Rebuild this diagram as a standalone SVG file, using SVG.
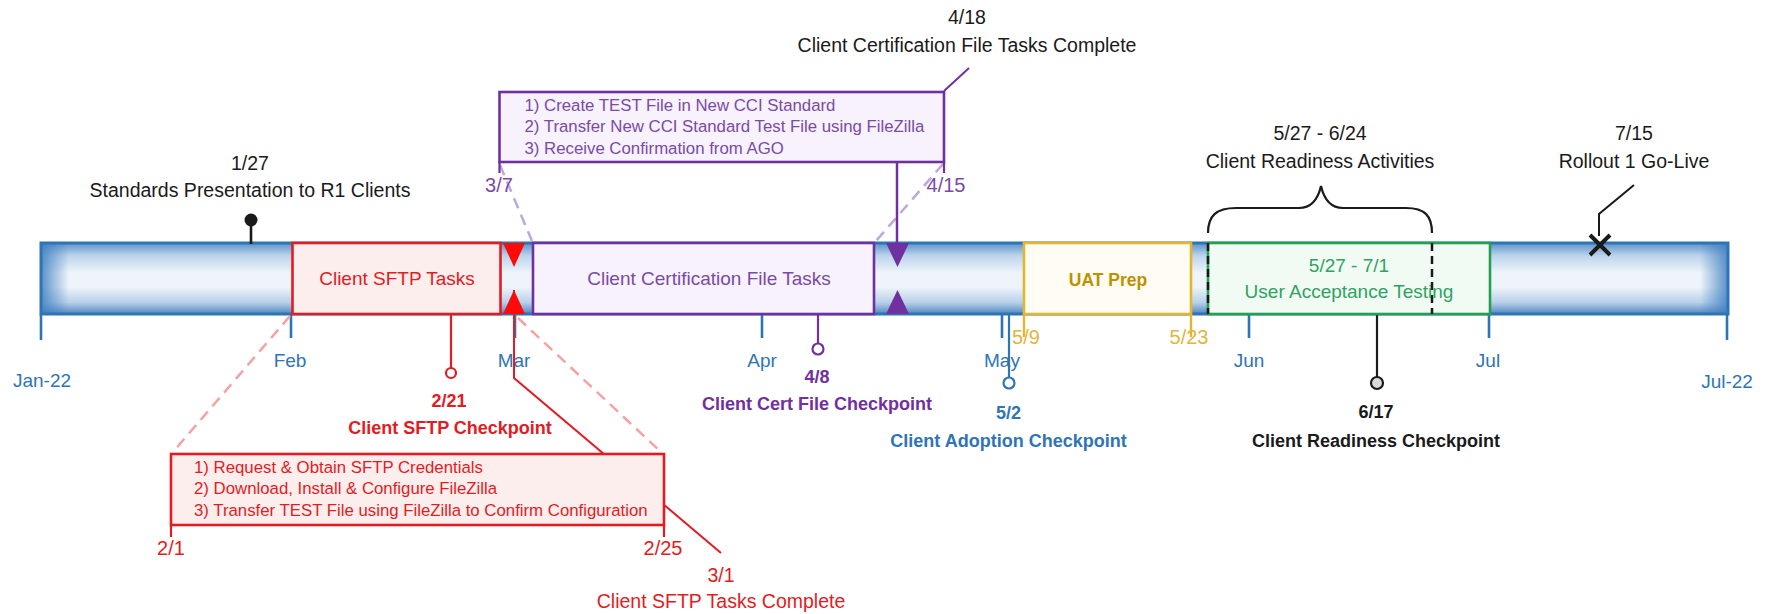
<svg xmlns="http://www.w3.org/2000/svg" width="1772" height="614" viewBox="0 0 1772 614">
<defs>
  <linearGradient id="barV" x1="0" y1="0" x2="0" y2="1">
    <stop offset="0" stop-color="#5d92c9"/>
    <stop offset="0.18" stop-color="#bcd4eb"/>
    <stop offset="0.42" stop-color="#eef4fa"/>
    <stop offset="0.62" stop-color="#eef4fa"/>
    <stop offset="0.84" stop-color="#b7d0e9"/>
    <stop offset="1" stop-color="#4f87c2"/>
  </linearGradient>
  <linearGradient id="endL" x1="0" y1="0" x2="1" y2="0">
    <stop offset="0" stop-color="#3f7fc0" stop-opacity="0.85"/>
    <stop offset="1" stop-color="#3f7fc0" stop-opacity="0"/>
  </linearGradient>
  <linearGradient id="endR" x1="1" y1="0" x2="0" y2="0">
    <stop offset="0" stop-color="#3f7fc0" stop-opacity="0.85"/>
    <stop offset="1" stop-color="#3f7fc0" stop-opacity="0"/>
  </linearGradient>
</defs>
<style>
  text { font-family: "Liberation Sans", Arial, sans-serif; }
  .ann { font-size: 19.5px; fill: #1a1a1a; text-anchor: middle; }
  .mon { font-size: 19px; fill: #2e75b6; text-anchor: middle; }
  .task { font-size: 19px; text-anchor: middle; }
  .cp { font-size: 18px; font-weight: bold; text-anchor: middle; }
  .det { font-size: 16.8px; }
  .dt { font-size: 20px; text-anchor: middle; }
  .tick { stroke: #2e75b6; stroke-width: 2.6; fill: none; }
  .red { fill: #e31b23; }
  .pur { fill: #7030a0; }
  .blu { fill: #2e75b6; }
  .blk { fill: #1a1a1a; }
  .gold { fill: #e3b440; }
</style>
<rect width="1772" height="614" fill="#ffffff"/>

<g id="timeline-bar">
  <rect x="41" y="243" width="1687" height="71" fill="url(#barV)"/>
  <rect x="41" y="243" width="28" height="71" fill="url(#endL)"/>
  <rect x="1700" y="243" width="28" height="71" fill="url(#endR)"/>
  <rect x="41" y="243" width="1687" height="71" fill="none" stroke="#2e75b6" stroke-width="3"/>
</g>

<g id="axis">
  <line class="tick" x1="41" y1="314" x2="41" y2="340"/>
  <line class="tick" x1="291" y1="314" x2="291" y2="338"/>
  <line class="tick" x1="515" y1="314" x2="515" y2="338"/>
  <line class="tick" x1="762" y1="314" x2="762" y2="338"/>
  <line class="tick" x1="1002" y1="314" x2="1002" y2="338"/>
  <line class="tick" x1="1249" y1="314" x2="1249" y2="338"/>
  <line class="tick" x1="1489" y1="314" x2="1489" y2="338"/>
  <line class="tick" x1="1727" y1="314" x2="1727" y2="340"/>
  <text class="mon" x="42" y="387">Jan-22</text>
  <text class="mon" x="290" y="367">Feb</text>
  <text class="mon" x="514" y="367">Mar</text>
  <text class="mon" x="762" y="367">Apr</text>
  <text class="mon" x="1002" y="367">May</text>
  <text class="mon" x="1249" y="367">Jun</text>
  <text class="mon" x="1488" y="367">Jul</text>
  <text class="mon" x="1727" y="388">Jul-22</text>
</g>

<g id="connectors" fill="none">
  <!-- SFTP detail zoom lines -->
  <line x1="290" y1="316" x2="173" y2="452" stroke="#f4a3a5" stroke-width="2.5" stroke-dasharray="11 7"/>
  <line x1="518" y1="318" x2="661" y2="452" stroke="#f4a3a5" stroke-width="2.5" stroke-dasharray="11 7"/>
  <!-- Cert detail zoom lines -->
  <line x1="500" y1="165" x2="532" y2="241" stroke="#bca9da" stroke-width="2.5" stroke-dasharray="11 7"/>
  <line x1="943" y1="164" x2="876" y2="241" stroke="#bca9da" stroke-width="2.5" stroke-dasharray="11 7"/>
  <!-- 3/1 leader -->
  <polyline points="514,290 514,378 721,553" stroke="#e31b23" stroke-width="2"/>
  <!-- 4/15 leader to triangle -->
  <line x1="897" y1="162" x2="897" y2="245" stroke="#7030a0" stroke-width="2.5"/>
  <!-- 4/18 leader -->
  <line x1="944" y1="91" x2="969" y2="68" stroke="#7030a0" stroke-width="2"/>
  <!-- 7/15 leader -->
  <polyline points="1634,185 1599,214 1599,236" stroke="#1a1a1a" stroke-width="2"/>
  <!-- Client readiness brace -->
  <path d="M1208,233 C1208,216 1216,208 1236,208 L1299,208 C1311,208 1318,199 1321,186 C1324,199 1331,208 1343,208 L1406,208 C1425,208 1432,216 1432,233" stroke="#1a1a1a" stroke-width="2.2"/>
  <!-- checkpoint stems -->
  <line x1="251" y1="222" x2="251" y2="244" stroke="#1a1a1a" stroke-width="2.6"/>
  <line x1="451" y1="314" x2="451" y2="368" stroke="#e31b23" stroke-width="2.2"/>
  <line x1="818" y1="314" x2="818" y2="344" stroke="#7030a0" stroke-width="2.2"/>
  <line x1="1009" y1="314" x2="1009" y2="378" stroke="#2e75b6" stroke-width="2.2"/>
  <line x1="1377" y1="314" x2="1377" y2="377" stroke="#1a1a1a" stroke-width="2.2"/>
</g>

<g id="task-sftp">
  <rect x="292.5" y="243" width="208" height="71" fill="#fdeeee" stroke="#e31b23" stroke-width="2.6"/>
  <text class="task red" x="397" y="285">Client SFTP Tasks</text>
</g>

<g id="task-cert">
  <rect x="533" y="243" width="341" height="71" fill="#f7f2fb" stroke="#7030a0" stroke-width="2.6"/>
  <text class="task" x="709" y="285" fill="#7a4aa8">Client Certification File Tasks</text>
</g>

<g id="task-uat-prep">
  <rect x="1024" y="243" width="167" height="71" fill="#fffdf3" stroke="#e6b52e" stroke-width="2.6"/>
  <text x="1108" y="286" text-anchor="middle" font-size="17.5" font-weight="bold" fill="#bf9000">UAT Prep</text>
  <line x1="1024" y1="314" x2="1024" y2="337" stroke="#e6b52e" stroke-width="2.4"/>
  <line x1="1191" y1="314" x2="1191" y2="337" stroke="#e6b52e" stroke-width="2.4"/>
  <text class="dt gold" x="1026" y="344">5/9</text>
  <text class="dt gold" x="1189" y="344">5/23</text>
</g>

<g id="task-uat">
  <rect x="1208" y="243" width="282" height="71" fill="#f1fbf4" stroke="#22a052" stroke-width="2.6"/>
  <line x1="1208" y1="243" x2="1208" y2="314" stroke="#1a1a1a" stroke-width="2.5" stroke-dasharray="8 5"/>
  <line x1="1432" y1="243" x2="1432" y2="314" stroke="#1a1a1a" stroke-width="2.5" stroke-dasharray="8 5"/>
  <text class="task" x="1349" y="272" fill="#2ea35f">5/27 - 7/1</text>
  <text class="task" x="1349" y="298" fill="#2ea35f">User Acceptance Testing</text>
</g>

<g id="marker-sftp">
  <polygon points="503,243 525,243 514,267" fill="#ff0a0a"/>
  <polygon points="503,314 525,314 514,290" fill="#ff0a0a"/>
</g>

<g id="marker-cert">
  <polygon points="886,243 909,243 897.5,267" fill="#7030a0"/>
  <polygon points="886,314 909,314 897.5,290" fill="#7030a0"/>
</g>

<g id="milestone-standards">
  <circle cx="251" cy="220" r="6.5" fill="#1a1a1a"/>
  <text class="ann" x="250" y="170">1/27</text>
  <text class="ann" x="250" y="197">Standards Presentation to R1 Clients</text>
</g>

<g id="detail-sftp">
  <rect x="171" y="454" width="493" height="71" fill="#fdeeee" stroke="#e31b23" stroke-width="2.6"/>
  <text class="det red" x="194" y="472.5">1) Request &amp; Obtain SFTP Credentials</text>
  <text class="det red" x="194" y="494.3">2) Download, Install &amp; Configure FileZilla</text>
  <text class="det red" x="194" y="515.8">3) Transfer TEST File using FileZilla to Confirm Configuration</text>
  <line x1="171" y1="525" x2="171" y2="537" stroke="#e31b23" stroke-width="2.2"/>
  <line x1="664" y1="525" x2="664" y2="537" stroke="#e31b23" stroke-width="2.2"/>
  <text class="dt red" x="171" y="555">2/1</text>
  <text class="dt red" x="663" y="555">2/25</text>
</g>

<g id="milestone-sftp-complete">
  <text class="ann red" x="721" y="582">3/1</text>
  <text class="ann red" x="721" y="608">Client SFTP Tasks Complete</text>
</g>

<g id="detail-cert">
  <rect x="499.5" y="92" width="444.5" height="70" fill="#f7f2fb" stroke="#7030a0" stroke-width="2.6"/>
  <text class="det" x="524.5" y="110.5" fill="#7a4aa8">1) Create TEST File in New CCI Standard</text>
  <text class="det" x="524.5" y="132" fill="#7a4aa8">2) Transfer New CCI Standard Test File using FileZilla</text>
  <text class="det" x="524.5" y="153.5" fill="#7a4aa8">3) Receive Confirmation from AGO</text>
  <line x1="499.5" y1="162" x2="499.5" y2="173" stroke="#7030a0" stroke-width="2.2"/>
  <line x1="944" y1="162" x2="944" y2="173" stroke="#7030a0" stroke-width="2.2"/>
  <text class="dt" x="499" y="192" fill="#7a4aa8">3/7</text>
  <text class="dt" x="946" y="192" fill="#7a4aa8">4/15</text>
</g>

<g id="milestone-cert-complete">
  <text class="ann" x="967" y="23.5" fill="#8152b3">4/18</text>
  <text class="ann" x="967" y="52" fill="#8152b3">Client Certification File Tasks Complete</text>
</g>

<g id="checkpoint-sftp">
  <circle cx="451" cy="373" r="5" fill="#ffffff" stroke="#e31b23" stroke-width="2.2"/>
  <text class="cp red" x="449" y="407">2/21</text>
  <text class="cp red" x="450" y="433.5">Client SFTP Checkpoint</text>
</g>

<g id="checkpoint-cert">
  <circle cx="818" cy="349" r="5.5" fill="#ffffff" stroke="#7030a0" stroke-width="2.2"/>
  <text class="cp pur" x="817" y="383">4/8</text>
  <text class="cp pur" x="817" y="410">Client Cert File Checkpoint</text>
</g>

<g id="checkpoint-adoption">
  <circle cx="1009" cy="383" r="5.5" fill="#ffffff" stroke="#2e75b6" stroke-width="2.2"/>
  <text class="cp blu" x="1008.5" y="419">5/2</text>
  <text class="cp blu" x="1008.5" y="447">Client Adoption Checkpoint</text>
</g>

<g id="checkpoint-readiness">
  <circle cx="1377" cy="383" r="6" fill="#d9d9d9" stroke="#1a1a1a" stroke-width="2.2"/>
  <text class="cp blk" x="1376" y="418">6/17</text>
  <text class="cp blk" x="1376" y="447">Client Readiness Checkpoint</text>
</g>

<g id="readiness-activities">
  <text class="ann" x="1320" y="140">5/27 - 6/24</text>
  <text class="ann" x="1320" y="168">Client Readiness Activities</text>
</g>

<g id="milestone-golive">
  <path d="M1590,235 L1610,255 M1610,235 L1590,255" stroke="#1a1a1a" stroke-width="4" fill="none"/>
  <text class="ann" x="1634" y="140">7/15</text>
  <text class="ann" x="1634" y="168">Rollout 1 Go-Live</text>
</g>
</svg>
